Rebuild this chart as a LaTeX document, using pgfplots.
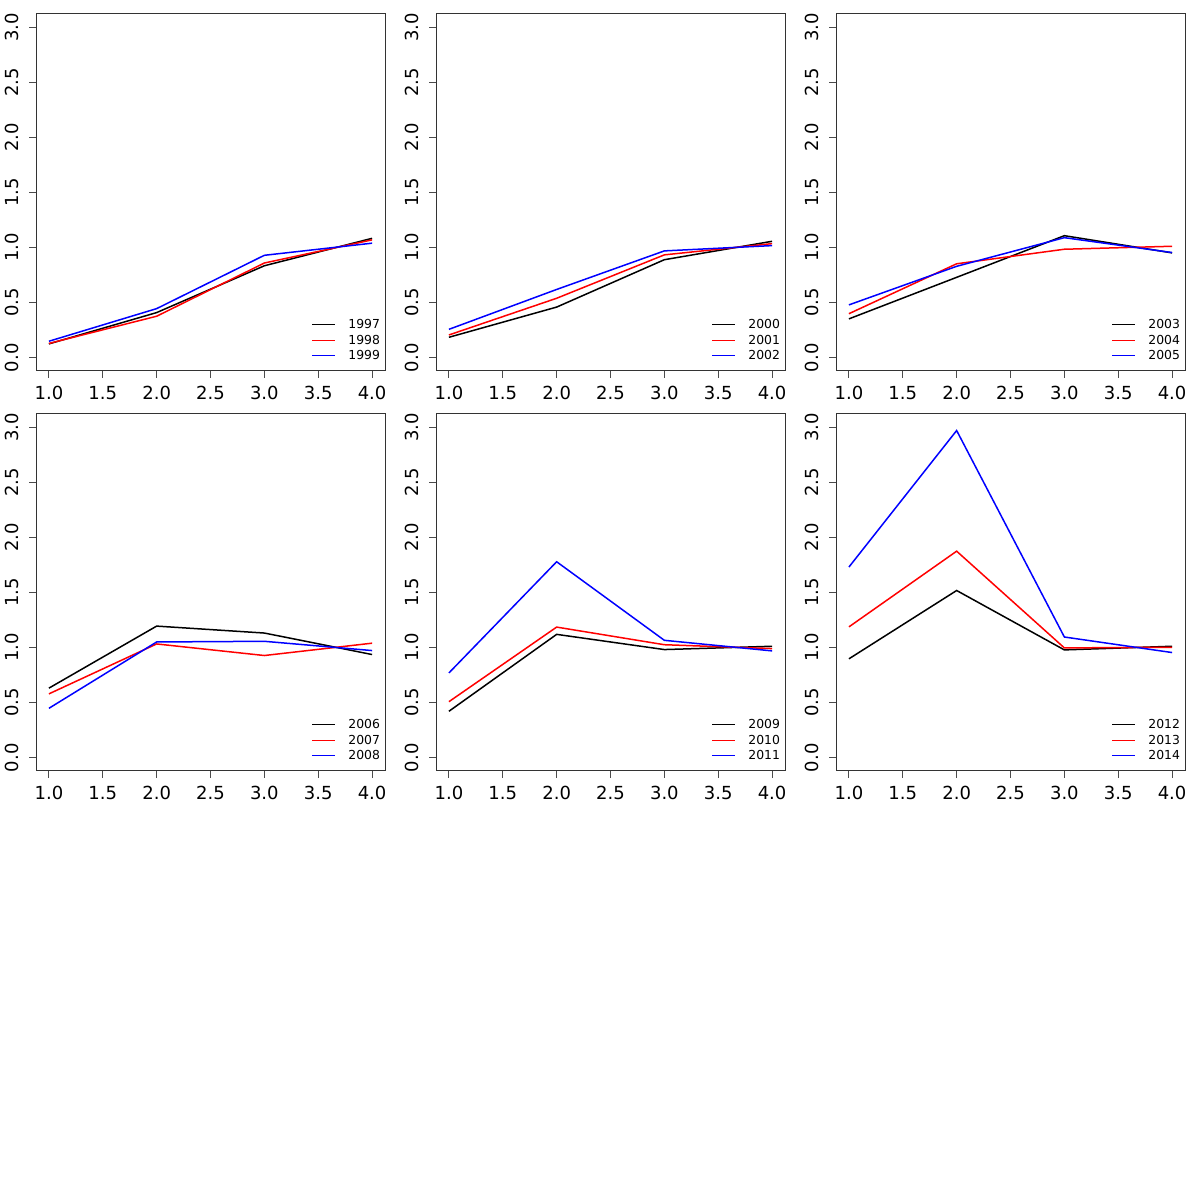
\documentclass[border=0pt]{standalone}
\usepackage{fontspec}
\setmainfont{DejaVu Sans}
\usepackage{pgfplots}
\pgfplotsset{compat=1.18}
\definecolor{rred}{RGB}{255,0,0}
\definecolor{rblue}{RGB}{0,0,255}
\pgfplotsset{panel/.style={
  scale only axis, width=174.5pt, height=178.5pt, anchor=south west,
  xmin=0.88, xmax=4.12, ymin=-0.12, ymax=3.12,
  xtick={1,1.5,2,2.5,3,3.5,4}, ytick={0,0.5,1,1.5,2,2.5,3},
  tick align=outside, xtick pos=left, ytick pos=left,
  major tick length=3.5pt,
  every tick/.style={black!70, line width=0.5pt},
  axis line style={black!80, line width=0.5pt},
  tick label style={font=\fontsize{9}{10}\selectfont},
  /pgf/number format/.cd, fixed, fixed zerofill, precision=1, assume math mode=true, /pgfplots/.cd,
  yticklabel style={rotate=90, anchor=south, inner sep=1pt, inner ysep=5pt},
  xticklabel style={inner sep=1pt, inner ysep=4pt},
  every axis plot/.append style={line width=0.75pt, mark=none},
}}
\newcommand{\legrow}[3]{%
  \draw[#1, line width=0.4pt] (axis description cs:0.791,#2) -- (axis description cs:0.858,#2);
  \node[anchor=west, inner sep=0pt, font=\fontsize{6.2}{7}\selectfont] at (axis description cs:0.894,#2) {#3};
}
\newcommand{\mylegend}[3]{%
  \legrow{black}{0.1317}{#1}
  \legrow{rred}{0.0868}{#2}
  \legrow{rblue}{0.0448}{#3}
}
\begin{document}
\begin{tikzpicture}
\path[use as bounding box] (0,0) rectangle (600pt,600pt);
% Panel 1
\begin{axis}[panel, at={(18pt,414.5pt)}]
\addplot[black] coordinates {(1,0.126) (2,0.41) (3,0.835) (4,1.084)};
\addplot[rred] coordinates {(1,0.13) (2,0.377) (3,0.86) (4,1.07)};
\addplot[rblue] coordinates {(1,0.15) (2,0.446) (3,0.93) (4,1.04)};
\mylegend{1997}{1998}{1999}
\end{axis}
% Panel 2
\begin{axis}[panel, at={(218pt,414.5pt)}]
\addplot[black] coordinates {(1,0.186) (2,0.46) (3,0.89) (4,1.057)};
\addplot[rred] coordinates {(1,0.207) (2,0.54) (3,0.934) (4,1.036)};
\addplot[rblue] coordinates {(1,0.258) (2,0.62) (3,0.97) (4,1.018)};
\mylegend{2000}{2001}{2002}
\end{axis}
% Panel 3
\begin{axis}[panel, at={(418pt,414.5pt)}]
\addplot[black] coordinates {(1,0.353) (2,0.73) (3,1.108) (4,0.952)};
\addplot[rred] coordinates {(1,0.40) (2,0.853) (3,0.985) (4,1.012)};
\addplot[rblue] coordinates {(1,0.48) (2,0.83) (3,1.09) (4,0.955)};
\mylegend{2003}{2004}{2005}
\end{axis}
% Panel 4
\begin{axis}[panel, at={(18pt,214.5pt)}]
\addplot[black] coordinates {(1,0.632) (2,1.195) (3,1.132) (4,0.937)};
\addplot[rred] coordinates {(1,0.58) (2,1.033) (3,0.928) (4,1.04)};
\addplot[rblue] coordinates {(1,0.449) (2,1.051) (3,1.057) (4,0.973)};
\mylegend{2006}{2007}{2008}
\end{axis}
% Panel 5
\begin{axis}[panel, at={(218pt,214.5pt)}]
\addplot[black] coordinates {(1,0.422) (2,1.12) (3,0.982) (4,1.012)};
\addplot[rred] coordinates {(1,0.509) (2,1.186) (3,1.026) (4,0.991)};
\addplot[rblue] coordinates {(1,0.77) (2,1.779) (3,1.066) (4,0.970)};
\mylegend{2009}{2010}{2011}
\end{axis}
% Panel 6
\begin{axis}[panel, at={(418pt,214.5pt)}]
\addplot[black] coordinates {(1,0.898) (2,1.518) (3,0.979) (4,1.012)};
\addplot[rred] coordinates {(1,1.188) (2,1.875) (3,0.997) (4,1.003)};
\addplot[rblue] coordinates {(1,1.731) (2,2.97) (3,1.096) (4,0.955)};
\mylegend{2012}{2013}{2014}
\end{axis}
\end{tikzpicture}
\end{document}
